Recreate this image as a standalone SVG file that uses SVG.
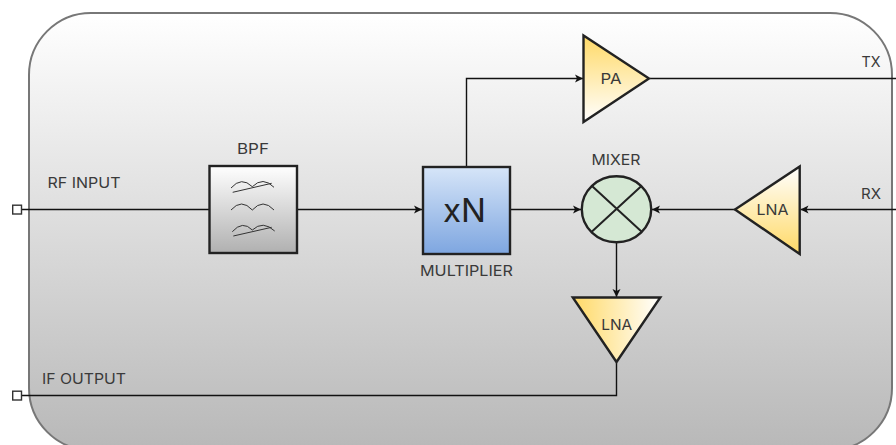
<svg xmlns="http://www.w3.org/2000/svg" width="896" height="445" viewBox="0 0 896 445">
<style>
text{font-family:Inter,"Noto Sans","Liberation Sans",sans-serif;fill:#3a3a3a;font-size:14.500px;text-anchor:middle}
.c{fill:none;stroke:#111;stroke-width:1.400}
.b{stroke:#222;stroke-width:2.400;stroke-linejoin:miter}
.f{fill:none;stroke:#333;stroke-width:1}
.p{fill:#fff;stroke:#333;stroke-width:1.400}
</style>
<defs>
<linearGradient id="bg" x1="0" y1="0" x2="0" y2="1"><stop offset="0" stop-color="#fff"/><stop offset="1" stop-color="#b8b8b8"/></linearGradient>
<linearGradient id="bpf" x1="0" y1="0" x2="0" y2="1"><stop offset="0" stop-color="#fff"/><stop offset="1" stop-color="#b0b0b0"/></linearGradient>
<linearGradient id="xn" x1="0" y1="0" x2="0" y2="1"><stop offset="0" stop-color="#d6e5f8"/><stop offset="1" stop-color="#7ea6e0"/></linearGradient>
<linearGradient id="ampD" x1="0" y1="0" x2="0" y2="1"><stop offset="0" stop-color="#ffd966"/><stop offset="1" stop-color="#fff"/></linearGradient>
<linearGradient id="ampU" x1="0" y1="1" x2="0" y2="0"><stop offset="0" stop-color="#ffd966"/><stop offset="1" stop-color="#fff"/></linearGradient>
<linearGradient id="ampR" x1="0" y1="0" x2="1" y2="0"><stop offset="0" stop-color="#ffd966"/><stop offset="1" stop-color="#fff"/></linearGradient>
<marker id="a" markerUnits="userSpaceOnUse" markerWidth="10" markerHeight="10" refX="8" refY="5" orient="auto"><path d="M0 1L8 5L0 9L2 5Z" fill="#111"/></marker>
</defs>
<g id="board"><rect x="29" y="13" width="863" height="437" rx="62" ry="62" fill="url(#bg)" stroke="#777" stroke-width="2"/></g>
<g id="connectors">
<path class="c" d="M21.500 209.500H209"/>
<path class="c" d="M298 209.500H422" marker-end="url(#a)"/>
<path class="c" d="M466.500 166V78.500H583" marker-end="url(#a)"/>
<path class="c" d="M510 209.500H581" marker-end="url(#a)"/>
<path class="c" d="M735 209.500H652" marker-end="url(#a)"/>
<path class="c" d="M896 209.500H800.500" marker-end="url(#a)"/>
<path class="c" d="M650 78.500H896"/>
<path class="c" d="M616.500 243V297" marker-end="url(#a)"/>
<path class="c" d="M616.500 363V395.500H21.500"/>
</g>
<g id="rf-port"><rect class="p" x="12.700" y="205.200" width="8.800" height="8.800"/><text x="84" y="188" textLength="73" lengthAdjust="spacingAndGlyphs">RF INPUT</text></g>
<g id="if-port"><rect class="p" x="12.700" y="391.200" width="8.800" height="8.800"/><text x="84" y="384" textLength="84" lengthAdjust="spacingAndGlyphs">IF OUTPUT</text></g>
<g id="bpf-node">
<rect class="b" x="209.500" y="166" width="87.500" height="87" fill="url(#bpf)"/>
<path class="f" d="M231 188Q241.500 176 252.300 186.700Q263 176 274 187.300M232.700 192.300L271.700 183.300"/>
<path class="f" d="M231 210Q241.500 198 252.300 210Q263 198 274 210"/>
<path class="f" d="M232.300 231.700Q242.500 220 252.300 230Q263 220 274.700 231M233.300 236L271.700 227.300"/>
<text x="253" y="154" textLength="32" lengthAdjust="spacingAndGlyphs">BPF</text>
</g>
<g id="multiplier">
<rect class="b" x="423" y="167" width="87" height="87" fill="url(#xn)"/>
<text x="464.500" y="222" textLength="43" lengthAdjust="spacingAndGlyphs" style="font-size:32px;font-weight:400;fill:#222">xN</text>
<text x="466.500" y="276" textLength="93" lengthAdjust="spacingAndGlyphs">MULTIPLIER</text>
</g>
<g id="pa"><path class="b" d="M583.500 35.500V122L649 78.500Z" fill="url(#ampD)"/><text x="611" y="83.500" textLength="21" lengthAdjust="spacingAndGlyphs">PA</text></g>
<g id="mixer">
<ellipse cx="616.500" cy="209.300" rx="34.700" ry="33" fill="#d5e8d4" stroke="#222" stroke-width="2.400"/>
<path d="M591.700 185.700L641.700 231.700M641.700 185.700L591.700 231.700" fill="none" stroke="#222" stroke-width="2"/>
<text x="616" y="165" textLength="49" lengthAdjust="spacingAndGlyphs">MIXER</text>
</g>
<g id="lna-rx"><path class="b" d="M799.700 166.500V254L735 209.500Z" fill="url(#ampU)"/><text x="772.500" y="215" textLength="32" lengthAdjust="spacingAndGlyphs">LNA</text></g>
<g id="lna-if"><path class="b" d="M572.800 297.500H660.300L616.500 362Z" fill="url(#ampR)"/><text x="616.700" y="329.500" textLength="31" lengthAdjust="spacingAndGlyphs">LNA</text></g>
<g id="tx-label"><text x="871" y="67" textLength="19" lengthAdjust="spacingAndGlyphs">TX</text></g>
<g id="rx-label"><text x="871" y="198.500" textLength="20" lengthAdjust="spacingAndGlyphs">RX</text></g>
</svg>
